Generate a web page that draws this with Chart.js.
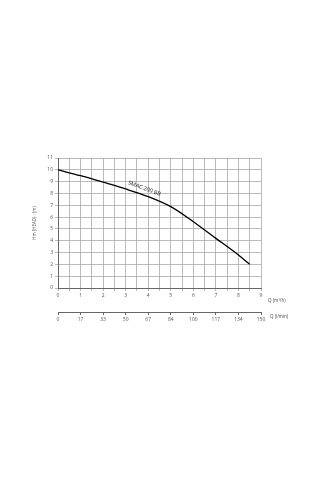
<!DOCTYPE html>
<html><head><meta charset="utf-8">
<script src="https://cdn.jsdelivr.net/npm/chart.js@4/dist/chart.umd.min.js"></script>
<style>html,body{margin:0;padding:0;background:#fff}#wrap{width:320px;height:480px}</style>
</head><body><div id="wrap"><canvas id="c" width="320" height="480"></canvas></div>
<script>
const flowM3h = [0, 1, 2, 3, 4, 5, 6, 7, 8, 8.5];
const headM   = [10, 9.5, 8.95, 8.38, 7.73, 6.88, 5.61, 4.2, 2.79, 2.0];
const lpmLabels = ['0','17','33','50','67','84','100','117','134','150'];
const seriesName = 'SMAC 200 BB';
const yTitle = 'Hm (HEAD) : (m)';
const xUnit1 = 'Q (m³/h)';
const xUnit2 = 'Q (l/min)';

const FONT = "'Open Sans', 'DejaVu Sans', sans-serif";
const tickFont = {family: FONT, size: 5};

const textPlugin = {
  id: 'texts',
  afterDraw(chart) {
    const ctx = chart.ctx, xs = chart.scales.x, ys = chart.scales.y, x2 = chart.scales.x2;
    ctx.save();
    ctx.fillStyle = '#444';
    ctx.font = "4.5px " + FONT;
    ctx.textAlign = 'left'; ctx.textBaseline = 'middle';
    ctx.fillText(xUnit1, chart.chartArea.right + 7, xs.top + 13);
    ctx.fillText(xUnit2, chart.chartArea.right + 9, x2.top + 5);
    // series label along the curve
    const px = xs.getPixelForValue(3.83), py = ys.getPixelForValue(8.42);
    ctx.translate(px, py);
    ctx.rotate(20 * Math.PI / 180);
    ctx.font = "5.5px " + FONT;
    ctx.fillStyle = '#111';
    ctx.textAlign = 'center';
    ctx.fillText(seriesName, 0, 0);
    ctx.restore();
  }
};

new Chart(document.getElementById('c'), {
  type: 'scatter',
  data: {
    datasets: [{
      label: seriesName,
      data: flowM3h.map((q, i) => ({x: q, y: headM[i]})),
      showLine: true,
      borderColor: '#000',
      borderWidth: 1.3,
      pointRadius: 0,
      cubicInterpolationMode: 'monotone',
      xAxisID: 'x', yAxisID: 'y'
    }]
  },
  options: {
    responsive: false,
    animation: false,
    layout: {padding: {left: 30, top: 158, right: 59, bottom: 153}},
    plugins: {legend: {display: false}, tooltip: {enabled: false}},
    scales: {
      x: {
        type: 'linear', position: 'bottom', min: 0, max: 9, weight: 0,
        ticks: {stepSize: 0.5, autoSkip: false, maxRotation: 0, padding: 2, font: tickFont, color: '#555',
          callback: v => Number.isInteger(v) ? String(v) : ''},
        grid: {color: '#aaa', lineWidth: 0.8, tickLength: 3},
        border: {color: '#666', width: 1},
        afterFit: s => { s.height = 24; }
      },
      x2: {
        type: 'linear', position: 'bottom', min: 0, max: 9, weight: 1,
        afterBuildTicks: s => { s.ticks = lpmLabels.map((_, i) => ({value: i})); },
        ticks: {autoSkip: false, maxRotation: 0, padding: 2, font: tickFont, color: '#555',
          callback: (v, i) => lpmLabels[i]},
        grid: {drawOnChartArea: false, color: '#666', tickLength: 3},
        border: {color: '#666', width: 1},
        afterFit: s => { s.height = 15; }
      },
      y: {
        type: 'linear', position: 'left', min: 0, max: 11,
        ticks: {stepSize: 1, padding: 2, font: tickFont, color: '#555'},
        grid: {color: '#aaa', lineWidth: 0.8, tickLength: 3},
        border: {color: '#666', width: 1},
        title: {display: true, text: yTitle, font: {family: FONT, size: 4.5}, color: '#444', padding: {top: 2, bottom: 0}},
        afterFit: s => { s.width = 28; }
      }
    }
  },
  plugins: [textPlugin]
});
</script>
</body></html>
